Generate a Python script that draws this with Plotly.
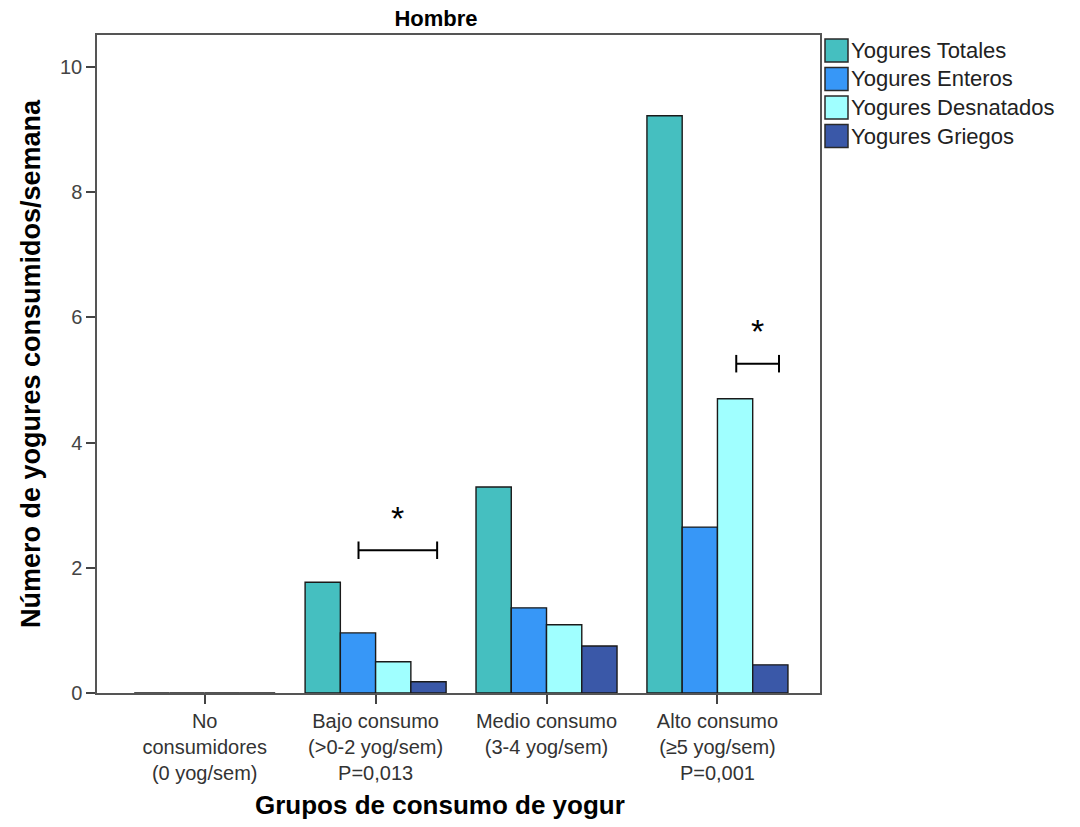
import plotly.graph_objects as go

# Consumption groups and mean yogurts per week (men)
categories = [
    "No<br>consumidores<br>(0 yog/sem)",
    "Bajo consumo<br>(>0-2 yog/sem)<br>P=0,013",
    "Medio consumo<br>(3-4 yog/sem)",
    "Alto consumo<br>(≥5 yog/sem)<br>P=0,001",
]
series_names = ["Yogures Totales", "Yogures Enteros", "Yogures Desnatados", "Yogures Griegos"]
totales = [0.0, 1.77, 3.29, 9.22]
enteros = [0.0, 0.96, 1.36, 2.65]
desnatados = [0.0, 0.50, 1.09, 4.70]
griegos = [0.0, 0.18, 0.75, 0.45]
colors = ["#45BFC0", "#3797F7", "#A0FFFF", "#3A58A8"]

# Significance brackets: (x0, x1, y) in data units, star above
brackets = [(0.90, 1.36, 2.28), (3.11, 3.36, 5.26)]

W, H = 1080, 827
L, R, T, B = 97, 260, 35, 134

x_idx = list(range(len(categories)))
fig = go.Figure()
for name, vals, col in zip(series_names, [totales, enteros, desnatados, griegos], colors):
    fig.add_trace(go.Bar(
        x=x_idx, y=vals, name=name, showlegend=False,
        marker=dict(color=col, line=dict(color="#1a1a1a", width=1.4)),
    ))

shapes = []
annotations = []
for x0, x1, y in brackets:
    shapes.append(dict(type="line", xref="x", yref="y", x0=x0, x1=x1, y0=y, y1=y,
                       line=dict(color="black", width=2)))
    for xe in (x0, x1):
        shapes.append(dict(type="line", xref="x", yref="y", x0=xe, x1=xe, y0=y - 0.14, y1=y + 0.14,
                           line=dict(color="black", width=2)))
    annotations.append(dict(x=(x0 + x1) / 2, y=y + 0.52, xref="x", yref="y", text="*",
                            showarrow=False, font=dict(size=34, color="black", family="Liberation Sans")))

# Legend drawn as swatches + labels to the right of the plot frame
sw_x0, sw_size, row0, row_step = 825, 23, 39, 28.5
for i, (name, col) in enumerate(zip(series_names, colors)):
    y_top = row0 + i * row_step
    shapes.append(dict(type="rect", xref="paper", yref="paper",
                       x0=(sw_x0 - L) / (W - L - R), x1=(sw_x0 + sw_size - L) / (W - L - R),
                       y0=1 - (y_top - T) / (H - T - B), y1=1 - (y_top + sw_size - T) / (H - T - B),
                       fillcolor=col, line=dict(color="#2a2a2a", width=1.5)))
    annotations.append(dict(xref="paper", yref="paper",
                            x=(sw_x0 + sw_size + 1 - L) / (W - L - R),
                            y=1 - (y_top + sw_size / 2 - T) / (H - T - B),
                            xanchor="left", yanchor="middle", text=name, showarrow=False,
                            font=dict(size=22, color="#222222")))

# X-axis title
annotations.append(dict(xref="paper", yref="paper", x=(440 - L) / (W - L - R),
                        y=1 - (805 - T) / (H - T - B), xanchor="center", yanchor="middle",
                        text="<b>Grupos de consumo de yogur</b>", showarrow=False,
                        font=dict(size=26, color="black")))

fig.update_layout(
    width=W, height=H,
    margin=dict(l=L, r=R, t=T, b=B),
    paper_bgcolor="white", plot_bgcolor="white",
    barmode="group", bargap=0.175, bargroupgap=0,
    font=dict(family="Liberation Sans, Arial, sans-serif", color="#333333"),
    title=dict(text="<b>Hombre</b>", x=436 / W, xanchor="center", y=1 - 18 / H, yanchor="middle",
               font=dict(size=22, color="black")),
    shapes=shapes, annotations=annotations,
    showlegend=False,
)
fig.update_xaxes(
    tickmode="array", tickvals=x_idx, ticktext=categories,
    range=[-0.63, 3.6],
    showline=True, linecolor="#555555", linewidth=1.5, mirror=True,
    ticks="outside", ticklen=9, tickcolor="#444444", tickwidth=1.5,
    tickfont=dict(size=20, color="#333333"),
    showgrid=False, zeroline=False,
)
fig.update_yaxes(
    range=[0, 10.51],
    tickvals=[0, 2, 4, 6, 8, 10],
    showline=True, linecolor="#555555", linewidth=1.5, mirror=True,
    ticks="outside", ticklen=9, tickcolor="#444444", tickwidth=1.5,
    tickfont=dict(size=20, color="#444444"),
    showgrid=False, zeroline=False,
    title=dict(text="<b>Número de yogures consumidos/semana</b>",
               font=dict(size=27, color="black"),
               standoff=12),
)

fig.write_html("out.html")
